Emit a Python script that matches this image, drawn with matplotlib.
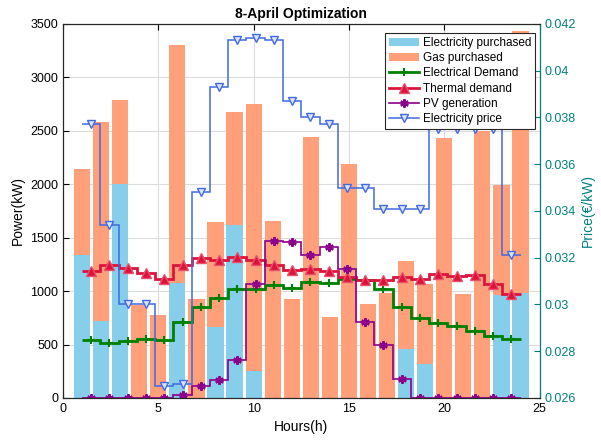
import numpy as np
import matplotlib
matplotlib.use("Agg")
import matplotlib.pyplot as plt
from matplotlib.lines import Line2D
from matplotlib.patches import Patch

plt.rcParams['font.family'] = ['Liberation Sans', 'DejaVu Sans']

hours = np.arange(1, 25)

# Purchased energy per hour (kW)
elec_purchased = [1340, 720, 2000, 0, 0, 1080, 0, 665, 1620, 255, 0, 0,
                  0, 0, 0, 0, 0, 455, 320, 0, 0, 0, 960, 985]
gas_total_top = [2140, 2580, 2790, 870, 780, 3300, 925, 1645, 2680, 2750, 1660, 925,
                 2445, 760, 2185, 875, 980, 1280, 1065, 2435, 970, 2495, 1990, 3435]
gas_purchased = [t - e for t, e in zip(gas_total_top, elec_purchased)]

# Hourly profiles (kW)
elec_demand = [544, 513, 529, 551, 544, 712, 849, 933, 1024, 1017, 1061, 1027,
               1086, 1080, 1111, 1101, 1017, 856, 753, 706, 669, 628, 576, 551]
thermal_demand = [1188, 1248, 1216, 1167, 1111, 1248, 1310, 1294, 1319, 1294, 1248, 1202,
                  1207, 1185, 1129, 1104, 1104, 1135, 1117, 1157, 1142, 1151, 1064, 977]
pv_generation = [0, 0, 0, 0, 0, 31, 109, 171, 352, 1064, 1468, 1459,
                 1335, 1416, 1204, 712, 498, 180, 0, 0, 0, 0, 0, 0]

# Electricity price (EUR/kW)
price = [0.0377, 0.0334, 0.0300, 0.0300, 0.0265, 0.0266, 0.0348, 0.0393,
         0.0413, 0.0414, 0.0413, 0.0387, 0.0380, 0.0377, 0.0350, 0.0350,
         0.0341, 0.0341, 0.0341, 0.0375, 0.0375, 0.0375, 0.0375, 0.0321]

edges = np.linspace(1, 24, len(hours) + 1)
centers = 0.5 * (edges[:-1] + edges[1:])

c_elec = '#87CEEB'
c_gas = '#FFA07A'
c_green = '#008000'
c_red = '#DC143C'
c_purple = '#8B008B'
c_blue = '#4169E1'
c_teal = '#008080'

asterisk = (6, 2, 0)

fig = plt.figure(figsize=(6.01, 4.43), dpi=100)
ax = fig.add_axes([0.1048, 0.1016, 0.7930, 0.8443])

ax.bar(hours, elec_purchased, width=0.85, color=c_elec, zorder=2)
ax.bar(hours, gas_purchased, width=0.85, bottom=elec_purchased, color=c_gas, zorder=2)

ax.stairs(elec_demand, edges, color=c_green, lw=2, zorder=3, baseline=None)
ax.plot(centers, elec_demand, ls='none', marker='+', ms=6, mew=1.5, color=c_green, zorder=3)
ax.stairs(thermal_demand, edges, color=c_red, lw=2, zorder=3, baseline=None)
ax.plot(centers, thermal_demand, ls='none', marker='^', ms=7.5, mfc=c_red, mec='#e8506e',
        color=c_red, zorder=3)
ax.stairs(pv_generation, edges, color=c_purple, lw=1.2, zorder=3, baseline=None)
ax.plot(centers, pv_generation, ls='none', marker=asterisk, ms=6, mew=1.6, color=c_purple, zorder=3)

ax.set_xlim(0, 25)
ax.set_ylim(0, 3500)
ax.set_xticks(np.arange(0, 26, 5))
ax.set_yticks(np.arange(0, 3501, 500))
ax.grid(True, color='#dcdcdc', lw=0.8, zorder=0)
ax.set_axisbelow(True)
ax.tick_params(direction='in', top=True, labelsize=9, length=4)
ax.set_xlabel('Hours(h)', fontsize=10)
ax.set_ylabel('Power(kW)', fontsize=10)
ax.set_title('8-April Optimization', fontsize=10, fontweight='bold', pad=4)

ax2 = ax.twinx()
ax2.stairs(price, edges, color=c_blue, lw=1.1, zorder=3, baseline=None)
ax2.plot(centers, price, ls='none', marker='v', ms=6, mfc='#dce4fb', mec=c_blue, mew=1,
         zorder=3)
ax2.set_ylim(0.026, 0.042)
ax2.set_yticks(np.arange(0.026, 0.0421, 0.002))
ax2.set_yticklabels(['0.026', '0.028', '0.03', '0.032', '0.034', '0.036', '0.038', '0.04', '0.042'])
ax2.tick_params(direction='in', colors=c_teal, labelsize=9, length=4)
ax2.spines['right'].set_color(c_teal)
ax2.set_ylabel('Price(€/kW)', fontsize=10, color=c_teal)

for a in (ax, ax2):
    for s in ('left', 'top', 'bottom'):
        a.spines[s].set_color('#262626')

handles = [
    Patch(facecolor=c_elec, edgecolor='none', label='Electricity purchased'),
    Patch(facecolor=c_gas, edgecolor='none', label='Gas purchased'),
    Line2D([], [], color=c_green, lw=2, marker='+', ms=6, mew=1.5, label='Electrical Demand'),
    Line2D([], [], color=c_red, lw=2, marker='^', ms=7.5, mfc=c_red, mec='#e8506e', label='Thermal demand'),
    Line2D([], [], color=c_purple, lw=1.2, marker=asterisk, ms=6, mew=1.6, label='PV generation'),
    Line2D([], [], color=c_blue, lw=1.1, marker='v', ms=6, mfc='#dce4fb', mec=c_blue, label='Electricity price'),
]
leg = ax2.legend(handles=handles, loc='upper right', bbox_to_anchor=(0.99, 0.975),
                 fontsize=8.5, frameon=True, fancybox=False, framealpha=1,
                 edgecolor='#262626', handlelength=2.6, handletextpad=0.3,
                 borderpad=0.3, labelspacing=0.28, borderaxespad=0)
leg.get_frame().set_linewidth(0.8)

fig.savefig('out.png', dpi=100)
